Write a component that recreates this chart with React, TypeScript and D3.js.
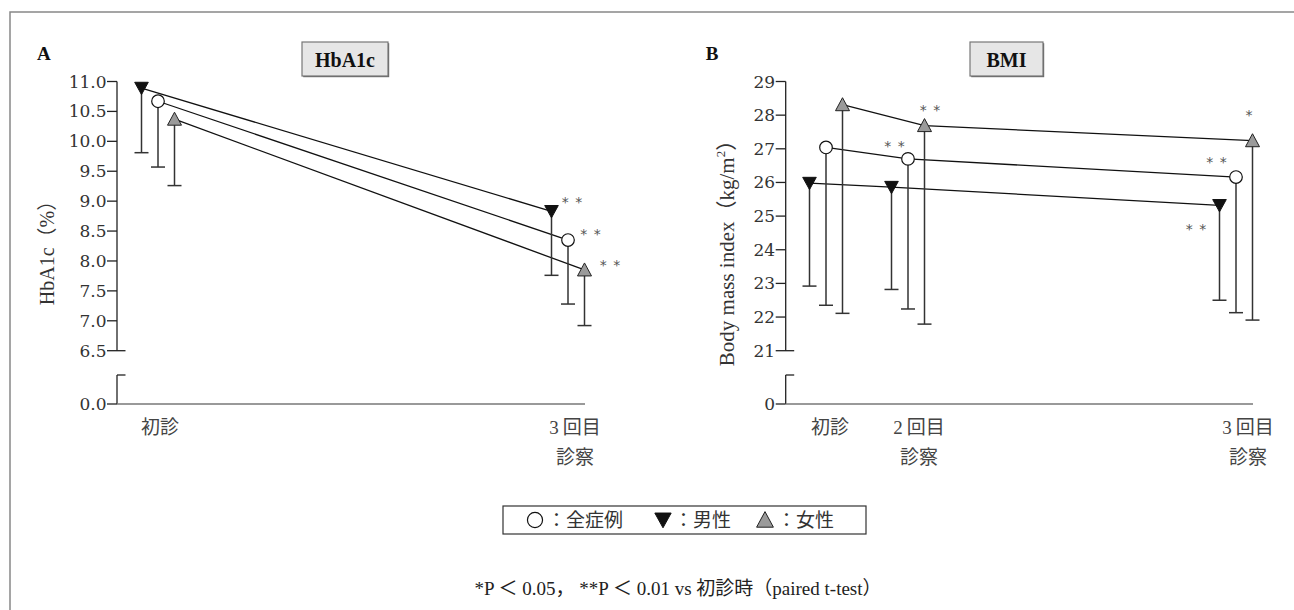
import React from 'react';
import * as d3 from 'd3';

// ---------- DATA ----------
const seriesKeys = ['all', 'male', 'female'];
const seriesNames = ['全症例', '男性', '女性'];

const hbVisits = ['初診', '3回目'];
const hbVisitTime = [0, 5];
const hbAllMean = [10.67, 8.35];
const hbAllLow = [9.57, 7.28];
const hbMaleMean = [10.89, 8.83];
const hbMaleLow = [9.81, 7.76];
const hbFemaleMean = [10.37, 7.85];
const hbFemaleLow = [9.26, 6.92];
const hbTicks = [6.5, 7.0, 7.5, 8.0, 8.5, 9.0, 9.5, 10.0, 10.5, 11.0];
const hbSig = [
  { series: 'male', visit: 1, text: '**' },
  { series: 'all', visit: 1, text: '**' },
  { series: 'female', visit: 1, text: '**' },
];

const bmiVisits = ['初診', '2回目', '3回目'];
const bmiVisitTime = [0, 1, 5];
const bmiAllMean = [27.04, 26.7, 26.16];
const bmiAllLow = [22.35, 22.24, 22.13];
const bmiMaleMean = [25.98, 25.86, 25.32];
const bmiMaleLow = [22.92, 22.82, 22.5];
const bmiFemaleMean = [28.31, 27.69, 27.24];
const bmiFemaleLow = [22.11, 21.79, 21.91];
const bmiTicks = [21, 22, 23, 24, 25, 26, 27, 28, 29];
const bmiSig = [
  { series: 'all', visit: 1, text: '**' },
  { series: 'female', visit: 1, text: '**' },
  { series: 'female', visit: 2, text: '*' },
  { series: 'all', visit: 2, text: '**' },
  { series: 'male', visit: 2, text: '**' },
];

// ---------- STYLE / LAYOUT ----------
const serif = '"Liberation Serif", "Times New Roman", serif';
const tickFont = '"DejaVu Serif", serif';
const cjk = '"Liberation Serif", "Noto Sans CJK JP", sans-serif';
const seriesOffset: Record<string, number> = { male: -16.5, all: 0, female: 16.5 };
const hbSigOffset = [
  [21, -9],
  [23, -6],
  [26, -5],
];
const bmiSigOffset = [
  [-13, -13],
  [6, -16],
  [-3, -26],
  [-19, -15],
  [-23, 24],
];

const Y_TOP = 81.5;
const Y_BREAK = 350.7;
const Y_LOWTOP = 375;
const Y_ZERO = 404;

function Marker({ kind, x, y, s = 1 }: { kind: string; x: number; y: number; s?: number }) {
  if (kind === 'all') return <circle cx={x} cy={y} r={6.3 * s} fill="#fff" stroke="#111" strokeWidth={1.2} />;
  if (kind === 'male') {
    const p = d3.path();
    p.moveTo(x - 6.8 * s, y - 5.8 * s);
    p.lineTo(x + 6.8 * s, y - 5.8 * s);
    p.lineTo(x, y + 6.5 * s);
    p.closePath();
    return <path d={p.toString()} fill="#111" stroke="#111" strokeWidth={1} />;
  }
  const p = d3.path();
  p.moveTo(x, y - 7 * s);
  p.lineTo(x + 7 * s, y + 6 * s);
  p.lineTo(x - 7 * s, y + 6 * s);
  p.closePath();
  return <path d={p.toString()} fill="#9a9a9a" stroke="#222" strokeWidth={1} />;
}

type PanelProps = {
  letter: string;
  title: string;
  titleBox: [number, number];
  axisX: number;
  xRange: [number, number];
  xEnd: number;
  visits: string[];
  times: number[];
  means: Record<string, number[]>;
  lows: Record<string, number[]>;
  ticks: number[];
  zeroLabel: string;
  fmt: (v: number) => string;
  sig: { series: string; visit: number; text: string }[];
  sigOffset: number[][];
  yLabel: React.ReactNode;
  yLabelX: number;
  yLabelSize: number;
  labelDx: number[];
};

function Panel(p: PanelProps) {
  const x = d3.scaleLinear().domain([0, 5]).range(p.xRange);
  const y = d3.scaleLinear().domain([p.ticks[0], p.ticks[p.ticks.length - 1]]).range([Y_BREAK, Y_TOP]);
  const ax = p.axisX;
  const line = d3
    .line<[number, number]>()
    .x((d) => d[0])
    .y((d) => d[1]);
  const px = (k: string, i: number) => x(p.times[i]) + seriesOffset[k];
  return (
    <g>
      <text x={ax - 80} y={60} fontFamily={serif} fontWeight="bold" fontSize={19} fill="#111">
        {p.letter}
      </text>
      {/* title box */}
      <rect x={p.titleBox[0] + 1.2} y={43.2} width={p.titleBox[1] - p.titleBox[0]} height={34} fill="#666" />
      <rect x={p.titleBox[0]} y={42} width={p.titleBox[1] - p.titleBox[0]} height={34} fill="#e6e6e6" stroke="#777" strokeWidth={1.2} />
      <text
        x={(p.titleBox[0] + p.titleBox[1]) / 2}
        y={60}
        textAnchor="middle"
        dominantBaseline="central"
        fontFamily={serif}
        fontWeight="bold"
        fontSize={20}
        fill="#111"
      >
        {p.title}
      </text>
      {/* y axis */}
      <line x1={ax} x2={ax} y1={y(p.ticks[p.ticks.length - 1])} y2={Y_BREAK} stroke="#222" strokeWidth={1.3} />
      <line x1={ax} x2={ax} y1={Y_LOWTOP} y2={Y_ZERO} stroke="#222" strokeWidth={1.3} />
      <line x1={ax} x2={ax + 8.5} y1={Y_LOWTOP} y2={Y_LOWTOP} stroke="#222" strokeWidth={1.3} />
      {p.ticks.map((t, i) => (
        <g key={t}>
          <line x1={ax - 10} x2={i === 0 ? ax + 8.5 : ax} y1={y(t)} y2={y(t)} stroke="#222" strokeWidth={1.3} />
          <text x={ax - 10.5} y={y(t)} textAnchor="end" dominantBaseline="central" fontFamily={tickFont} fontSize={17} fill="#333">
            {p.fmt(t)}
          </text>
        </g>
      ))}
      <line x1={ax - 10} x2={ax} y1={Y_ZERO} y2={Y_ZERO} stroke="#222" strokeWidth={1.3} />
      <text x={ax - 10.5} y={Y_ZERO} textAnchor="end" dominantBaseline="central" fontFamily={tickFont} fontSize={17} fill="#333">
        {p.zeroLabel}
      </text>
      {/* x axis */}
      <line x1={ax} x2={p.xEnd} y1={Y_ZERO} y2={Y_ZERO} stroke="#777" strokeWidth={1.5} />
      {p.visits.map((v, i) => {
        const cx = x(p.times[i]) + p.labelDx[i];
        const first = i === 0;
        return (
          <g key={v}>
            <text x={cx} y={427} textAnchor="middle" dominantBaseline="central" fontFamily={cjk} fontSize={19} fill="#444">
              {first ? v : v.replace(/^(\d)/, '$1\u2009')}
            </text>
            {!first && (
              <text x={cx} y={457} textAnchor="middle" dominantBaseline="central" fontFamily={cjk} fontSize={19} fill="#444">
                診察
              </text>
            )}
          </g>
        );
      })}
      {/* y label */}
      <text
        transform={`translate(${p.yLabelX},248) rotate(-90)`}
        textAnchor="middle"
        dominantBaseline="central"
        fontFamily={cjk}
        fontSize={p.yLabelSize}
        fill="#333"
      >
        {p.yLabel}
      </text>
      {/* lines */}
      {seriesKeys.map((k) => (
        <path
          key={k}
          d={line(p.means[k].map((m, i) => [px(k, i), y(m)]) as [number, number][]) || ''}
          fill="none"
          stroke="#111"
          strokeWidth={1.3}
        />
      ))}
      {/* error bars */}
      {seriesKeys.map((k) =>
        p.means[k].map((m, i) => (
          <g key={k + i}>
            <line x1={px(k, i)} x2={px(k, i)} y1={y(m)} y2={y(p.lows[k][i])} stroke="#333" strokeWidth={1.5} />
            <line x1={px(k, i) - 7} x2={px(k, i) + 7} y1={y(p.lows[k][i])} y2={y(p.lows[k][i])} stroke="#333" strokeWidth={1.5} />
          </g>
        ))
      )}
      {/* markers */}
      {seriesKeys.map((k) => p.means[k].map((m, i) => <Marker key={k + i} kind={k} x={px(k, i)} y={y(m)} />))}
      {/* significance */}
      {p.sig.map((s, j) => (
        <text
          key={j}
          x={px(s.series, s.visit) + p.sigOffset[j][0]}
          y={y(p.means[s.series][s.visit]) + p.sigOffset[j][1]}
          textAnchor="middle"
          dominantBaseline="central"
          fontFamily='"DejaVu Sans", sans-serif'
          fontSize={14}
          letterSpacing={1}
          fill="#555"
        >
          {s.text.split('').join(' ')}
        </text>
      ))}
    </g>
  );
}

export default function App() {
  const legendItems = [
    { k: 'all', x: 535, tx: 547 },
    { k: 'male', x: 663, tx: 674 },
    { k: 'female', x: 765, tx: 777 },
  ];
  return (
    <svg width={1294} height={610} style={{ position: 'absolute', left: 0, top: 0, background: '#fff' }}>
      <rect x={0} y={0} width={1294} height={610} fill="#fff" />
      <rect x={10} y={12} width={1400} height={700} fill="none" stroke="#888" strokeWidth={1.5} />
      <Panel
        letter="A"
        title="HbA1c"
        titleBox={[302, 388]}
        axisX={117}
        xRange={[158, 568]}
        xEnd={585}
        visits={hbVisits}
        times={hbVisitTime}
        means={{ all: hbAllMean, male: hbMaleMean, female: hbFemaleMean }}
        lows={{ all: hbAllLow, male: hbMaleLow, female: hbFemaleLow }}
        ticks={hbTicks}
        zeroLabel="0.0"
        fmt={(v) => v.toFixed(1)}
        sig={hbSig}
        sigOffset={hbSigOffset}
        yLabel="HbA1c（%）"
        yLabelX={47}
        yLabelSize={20}
        labelDx={[2, 7]}
      />
      <Panel
        letter="B"
        title="BMI"
        titleBox={[970, 1043]}
        axisX={785.7}
        xRange={[826, 1236]}
        xEnd={1253}
        visits={bmiVisits}
        times={bmiVisitTime}
        means={{ all: bmiAllMean, male: bmiMaleMean, female: bmiFemaleMean }}
        lows={{ all: bmiAllLow, male: bmiMaleLow, female: bmiFemaleLow }}
        ticks={bmiTicks}
        zeroLabel="0"
        fmt={(v) => String(v)}
        sig={bmiSig}
        sigOffset={bmiSigOffset}
        yLabel={
          <>
            Body mass index（kg/m<tspan dy={-7} fontSize={13}>2</tspan>
            <tspan dy={7}>）</tspan>
          </>
        }
        yLabelX={727}
        yLabelSize={21}
        labelDx={[4, 11, 12]}
      />
      {/* legend */}
      <rect x={503} y={506} width={363} height={28} fill="#fff" stroke="#333" strokeWidth={1.2} />
      {legendItems.map((it, i) => (
        <g key={it.k}>
          <Marker kind={it.k} x={it.x} y={520} s={1.2} />
          <text x={it.tx} y={520} dominantBaseline="central" fontFamily={cjk} fontSize={19} fill="#333">
            {'：' + seriesNames[i]}
          </text>
        </g>
      ))}
      <text x={678} y={588} textAnchor="middle" dominantBaseline="central" fontFamily={cjk} fontSize={19} fill="#222">
        *P ＜ 0.05，  **P ＜ 0.01 vs 初診時（paired t-test）
      </text>
    </svg>
  );
}
